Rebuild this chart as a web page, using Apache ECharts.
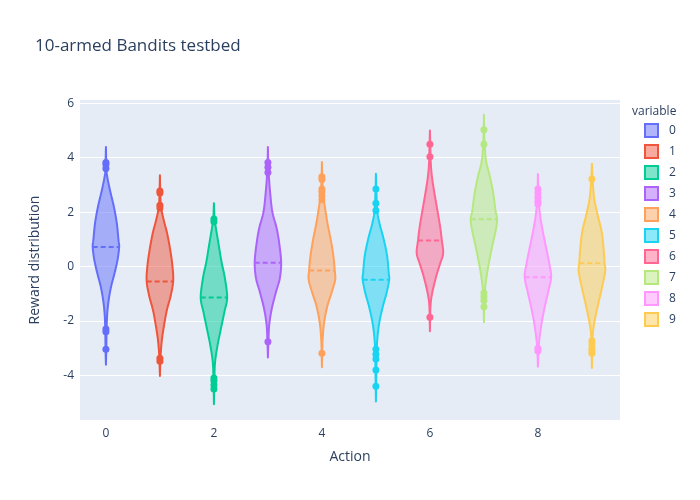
<!DOCTYPE html>
<html>
<head>
<meta charset="utf-8">
<script src="https://cdn.jsdelivr.net/npm/echarts@6/dist/echarts.min.js"></script>
<style>
  html, body { margin: 0; padding: 0; background: #fff; }
  #chart { width: 700px; height: 500px; }
</style>
</head>
<body>
<div id="chart"></div>
<script>
// arms 0..9
const actions = [0, 1, 2, 3, 4, 5, 6, 7, 8, 9];
const colors = ['#636efa', '#EF553B', '#00cc96', '#ab63fa', '#FFA15A',
                '#19d3f3', '#FF6692', '#B6E880', '#FF97FF', '#FECB52'];
const xTicks = [0, 2, 4, 6, 8];
const yTicks = [-4, -2, 0, 2, 4, 6];

// mean reward of each arm (dashed line)
const means = [0.72, -0.55, -1.14, 0.14, -0.15, -0.49, 0.96, 1.74, -0.39, 0.12];

// density profile: levels and relative half widths
const kdeY = [
  [4.39, 3.6, 3.3, 2.82, 2.2, 1.6, 0.98, 0.72, 0.25, -0.25, -0.74, -1.23, -1.72, -2.3, -3.0, -3.61],
  [3.35, 2.7, 2.2, 1.72, 1.23, 0.61, 0.0, -0.55, -1.1, -1.59, -2.08, -2.69, -3.3, -4.02],
  [2.33, 1.72, 1.41, 0.8, 0.18, -0.43, -1.14, -1.65, -2.26, -2.88, -3.5, -4.2, -5.06],
  [4.39, 3.6, 2.82, 2.02, 1.41, 0.8, 0.14, -0.43, -0.92, -1.53, -2.14, -2.76, -3.34],
  [3.84, 3.2, 2.6, 2.2, 1.59, 0.98, 0.37, -0.15, -0.49, -0.98, -1.47, -2.08, -2.7, -3.2, -3.7],
  [3.41, 2.8, 2.06, 1.59, 0.98, 0.37, -0.25, -0.49, -0.98, -1.47, -2.08, -2.7, -3.3, -4.0, -4.96],
  [5.0, 4.4, 3.85, 3.31, 2.7, 2.08, 1.47, 0.96, 0.49, 0.12, -0.37, -0.98, -1.4, -1.86, -2.38],
  [5.58, 4.8, 3.92, 3.31, 2.7, 2.08, 1.74, 1.35, 0.86, 0.25, -0.37, -0.86, -1.4, -2.05],
  [3.4, 2.6, 1.9, 1.29, 0.67, 0.06, -0.39, -0.92, -1.41, -2.02, -2.63, -3.1, -3.68],
  [3.78, 3.22, 2.51, 1.9, 1.29, 0.67, 0.12, -0.18, -0.8, -1.41, -2.02, -2.51, -3.1, -3.73]
];
const kdeW = [
  [0, 0.04, 0.1, 0.3, 0.6, 0.82, 0.95, 1.0, 0.88, 0.65, 0.39, 0.21, 0.1, 0.05, 0.03, 0],
  [0, 0.03, 0.08, 0.28, 0.54, 0.78, 0.95, 1.0, 0.8, 0.53, 0.34, 0.15, 0.05, 0],
  [0, 0.05, 0.15, 0.36, 0.57, 0.83, 1.0, 0.8, 0.54, 0.28, 0.09, 0.03, 0],
  [0, 0.04, 0.15, 0.33, 0.66, 0.87, 1.0, 0.9, 0.62, 0.3, 0.1, 0.04, 0],
  [0, 0.03, 0.1, 0.22, 0.42, 0.67, 0.87, 0.97, 1.0, 0.72, 0.4, 0.16, 0.05, 0.02, 0],
  [0, 0.03, 0.1, 0.27, 0.6, 0.85, 0.97, 1.0, 0.8, 0.52, 0.25, 0.1, 0.05, 0.03, 0],
  [0, 0.03, 0.06, 0.15, 0.34, 0.56, 0.77, 0.9, 1.0, 0.78, 0.47, 0.17, 0.05, 0.02, 0],
  [0, 0.03, 0.15, 0.45, 0.7, 0.87, 1.0, 0.9, 0.68, 0.42, 0.2, 0.08, 0.03, 0],
  [0, 0.04, 0.16, 0.37, 0.63, 0.88, 1.0, 0.78, 0.55, 0.3, 0.12, 0.04, 0],
  [0, 0.05, 0.17, 0.43, 0.73, 0.88, 0.96, 1.0, 0.75, 0.46, 0.2, 0.06, 0.03, 0]
];

// suspected outliers drawn as dots
const outliers = [
  [3.82, 3.75, 3.6, -2.3, -2.4, -3.04],
  [2.78, 2.7, 2.25, 2.15, -3.37, -3.48],
  [1.75, 1.65, -4.1, -4.2, -4.35, -4.5],
  [3.82, 3.65, 3.46, -2.76],
  [3.3, 3.2, 2.85, 2.75, 2.6, 2.45, -3.19],
  [2.85, 2.33, 2.06, -3.04, -3.22, -3.4, -3.8, -4.4],
  [4.49, 4.03, -1.86],
  [5.03, 4.49, -0.97, -1.1, -1.25, -1.48],
  [2.85, 2.7, 2.55, 2.4, 2.3, -3.0, -3.1],
  [3.22, -2.73, -2.85, -3.0, -3.1, -3.19]
];

const HALF = 0.245; // max half width in x units
const textColor = '#2a3f5f';
const font = '"Open Sans", "Noto Sans", sans-serif';

function fade(hex, a) {
  const n = parseInt(hex.slice(1), 16);
  return 'rgba(' + (n >> 16) + ',' + ((n >> 8) & 255) + ',' + (n & 255) + ',' + a + ')';
}

function widthAt(i, v) {
  const ys = kdeY[i], ws = kdeW[i];
  for (let k = 0; k < ys.length - 1; k++) {
    if (v <= ys[k] && v >= ys[k + 1]) {
      const t = (ys[k] - v) / (ys[k] - ys[k + 1]);
      return ws[k] + t * (ws[k + 1] - ws[k]);
    }
  }
  return 0;
}

// catmull-rom through the read profile so the outline curves like the original
function smoothProfile(ys, ws) {
  const out = [];
  const n = ys.length;
  for (let k = 0; k < n - 1; k++) {
    const k0 = Math.max(k - 1, 0), k3 = Math.min(k + 2, n - 1);
    const steps = 8;
    for (let s = 0; s < steps; s++) {
      const t = s / steps, t2 = t * t, t3 = t2 * t;
      const cr = function (p0, p1, p2, p3) {
        return 0.5 * (2 * p1 + (-p0 + p2) * t + (2 * p0 - 5 * p1 + 4 * p2 - p3) * t2 + (-p0 + 3 * p1 - 3 * p2 + p3) * t3);
      };
      const y = cr(ys[k0], ys[k], ys[k + 1], ys[k3]);
      const w = Math.max(0, cr(ws[k0], ws[k], ws[k + 1], ws[k3]));
      out.push([y, w]);
    }
  }
  out.push([ys[n - 1], ws[n - 1]]);
  return out;
}

const series = [];
actions.forEach(function (a, i) {
  const prof = smoothProfile(kdeY[i], kdeW[i]);
  series.push({
    name: String(a),
    type: 'custom',
    silent: true,
    z: 2,
    itemStyle: { color: fade(colors[i], 0.5), borderColor: colors[i] },
    data: [[a, means[i]]],
    renderItem: function (params, api) {
      const right = [], left = [];
      prof.forEach(function (p) {
        right.push(api.coord([a + p[1] * HALF, p[0]]));
        left.unshift(api.coord([a - p[1] * HALF, p[0]]));
      });
      const mw = widthAt(i, means[i]) * HALF;
      const m0 = api.coord([a - mw, means[i]]);
      const m1 = api.coord([a + mw, means[i]]);
      return {
        type: 'group',
        children: [{
          type: 'polygon',
          shape: { points: right.concat(left) },
          style: { fill: fade(colors[i], 0.5), stroke: colors[i], lineWidth: 2, lineJoin: 'round' }
        }, {
          type: 'line',
          shape: { x1: m0[0], y1: m0[1], x2: m1[0], y2: m1[1] },
          style: { stroke: colors[i], lineWidth: 2, lineDash: [5, 3] }
        }]
      };
    }
  });
  series.push({
    name: String(a),
    type: 'scatter',
    silent: true,
    z: 3,
    symbolSize: 7,
    itemStyle: { color: colors[i], opacity: 1 },
    data: outliers[i].map(function (v) { return [a, v]; })
  });
});

const chart = echarts.init(document.getElementById('chart'), null, { renderer: 'canvas' });
chart.setOption({
  animation: false,
  backgroundColor: '#fff',
  title: [{
    text: '10-armed Bandits testbed',
    left: 30, top: 33,
    textStyle: { fontFamily: font, fontSize: 17, fontWeight: 'normal', color: textColor }
  }, {
    text: 'variable',
    left: 627, top: 101,
    textStyle: { fontFamily: font, fontSize: 12, fontWeight: 'normal', color: textColor }
  }],
  legend: {
    orient: 'vertical',
    left: 639, top: 118,
    itemWidth: 13, itemHeight: 13, itemGap: 6,
    icon: 'rect',
    selectedMode: false,
    textStyle: { fontFamily: font, fontSize: 12, color: textColor, padding: [0, 0, 0, 6] },
    data: actions.map(function (a, i) {
      return {
        name: String(a),
        itemStyle: { color: fade(colors[i], 0.5), borderColor: colors[i], borderWidth: 2 }
      };
    })
  },
  grid: { left: 80, right: 80, top: 100, bottom: 80, show: true, backgroundColor: '#E5ECF6', borderWidth: 0 },
  xAxis: {
    type: 'value',
    min: -0.48, max: 9.52,
    name: 'Action',
    nameLocation: 'middle',
    nameGap: 30,
    nameTextStyle: { fontFamily: font, fontSize: 14, color: textColor },
    axisLine: { show: false },
    axisTick: { show: false, customValues: xTicks },
    axisLabel: { customValues: xTicks, fontFamily: font, fontSize: 12, color: textColor, margin: 8 },
    splitLine: { show: false }
  },
  yAxis: {
    type: 'value',
    min: -5.64, max: 6.12,
    name: 'Reward distribution',
    nameLocation: 'middle',
    nameGap: 38,
    nameTextStyle: { fontFamily: font, fontSize: 14, color: textColor },
    axisLine: { show: false },
    axisTick: { show: false, customValues: yTicks },
    axisLabel: { customValues: yTicks, fontFamily: font, fontSize: 12, color: textColor, margin: 6 },
    splitLine: { show: true, lineStyle: { color: '#fff', width: 1 } }
  },
  series: series
});
</script>
</body>
</html>
